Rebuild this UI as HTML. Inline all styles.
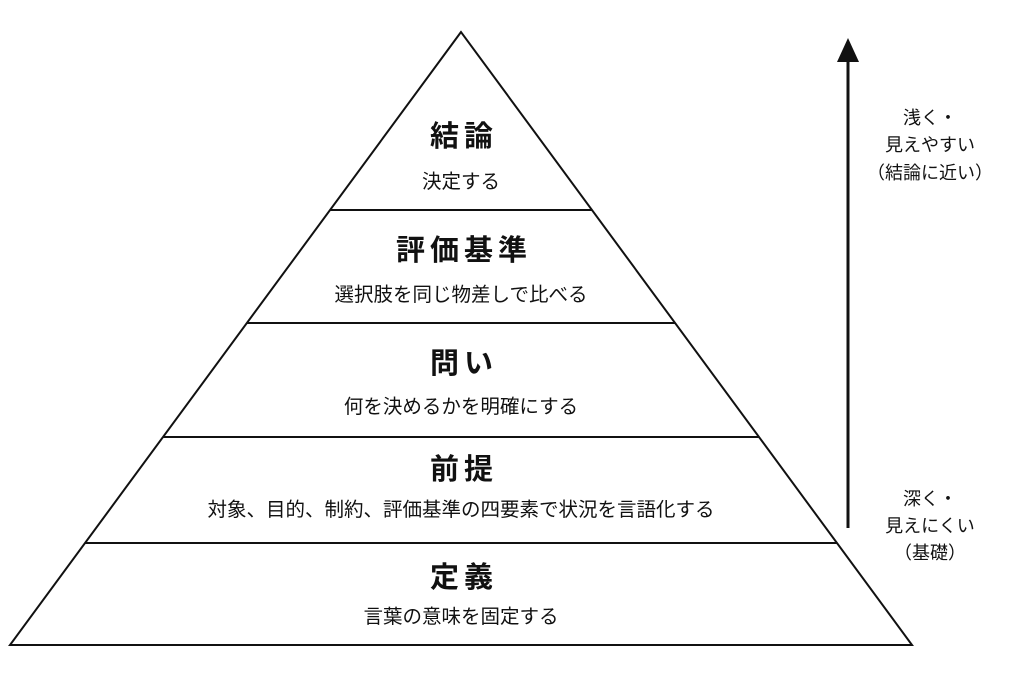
<!DOCTYPE html>
<html><head><meta charset="utf-8"><style>
html,body{margin:0;padding:0;background:#fff;}
svg{display:block;}
text{font-family:"Liberation Sans","Noto Sans CJK JP",sans-serif;fill:#111;text-anchor:middle;dominant-baseline:central;}
.t{font-size:29px;font-weight:bold;letter-spacing:5px;}
.s{font-size:19.5px;}
.r{font-size:18px;}
</style></head><body>
<svg width="1024" height="683" viewBox="0 0 1024 683">
<g stroke="#111" stroke-width="2" fill="none">
<polygon points="461,32 10,645 912,645"/>
<line x1="330" y1="210" x2="592" y2="210"/>
<line x1="247" y1="323" x2="675" y2="323"/>
<line x1="163" y1="437" x2="759" y2="437"/>
<line x1="85" y1="543" x2="837" y2="543"/>
<line x1="848" y1="60" x2="848" y2="528" stroke-width="3"/>
</g>
<polygon points="848,38 837,62 859,62" fill="#111"/>
<text class="t" x="464" y="137">結論</text>
<text class="s" x="461" y="182">決定する</text>
<text class="t" x="464" y="251">評価基準</text>
<text class="s" x="461" y="295">選択肢を同じ物差しで比べる</text>
<text class="t" x="464" y="364">問い</text>
<text class="s" x="461" y="407">何を決めるかを明確にする</text>
<text class="t" x="464" y="470">前提</text>
<text class="s" x="461" y="510">対象、目的、制約、評価基準の四要素で状況を言語化する</text>
<text class="t" x="464" y="578">定義</text>
<text class="s" x="461" y="617">言葉の意味を固定する</text>
<text class="r" x="930" y="118">浅く・</text>
<text class="r" x="930" y="145">見えやすい</text>
<text class="r" x="930" y="173">（結論に近い）</text>
<text class="r" x="930" y="499">深く・</text>
<text class="r" x="930" y="526">見えにくい</text>
<text class="r" x="930" y="553">（基礎）</text>
</svg>
</body></html>
